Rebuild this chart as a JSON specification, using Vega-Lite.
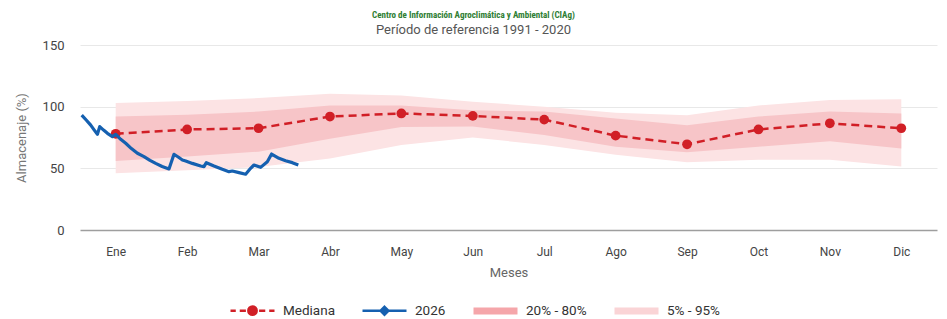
{
  "$schema": "https://vega.github.io/schema/vega-lite/v6.json",
  "width": 857,
  "height": 185,
  "autosize": {"type": "none"},
  "padding": {"left": 80, "top": 45, "right": 10, "bottom": 89},
  "background": "white",
  "config": {
    "font": "Roboto",
    "view": {"stroke": null},
    "axis": {"labelFont": "Roboto", "titleFont": "Roboto"},
    "legend": {"labelFont": "Roboto"}
  },
  "title": {
    "text": "Centro de Información Agroclimática y Ambiental (CIAg)",
    "subtitle": "Período de referencia 1991 - 2020",
    "font": "Roboto Condensed, Liberation Sans Narrow, DejaVu Sans Condensed, Roboto",
    "fontSize": 9,
    "fontWeight": "bold",
    "color": "#2e7d32",
    "subtitleFont": "Roboto",
    "subtitleFontSize": 13,
    "subtitleColor": "#555555",
    "subtitlePadding": 4,
    "anchor": "middle",
    "dx": -35,
    "offset": 2
  },
  "datasets": {
    "mensual": [
      {"mes": 0, "med": 78, "p5": 46, "p20": 56, "p80": 92, "p95": 103},
      {"mes": 1, "med": 81.5, "p5": 48.5, "p20": 59.5, "p80": 93.5, "p95": 104.5},
      {"mes": 2, "med": 82.5, "p5": 51, "p20": 63.5, "p80": 96, "p95": 107},
      {"mes": 3, "med": 92, "p5": 58, "p20": 74, "p80": 101, "p95": 110.5},
      {"mes": 4, "med": 94.5, "p5": 69, "p20": 83.5, "p80": 101, "p95": 109},
      {"mes": 5, "med": 92.5, "p5": 75, "p20": 84, "p80": 97, "p95": 104},
      {"mes": 6, "med": 89.5, "p5": 69, "p20": 77, "p80": 96, "p95": 100},
      {"mes": 7, "med": 76.5, "p5": 61, "p20": 67.5, "p80": 90.5, "p95": 95},
      {"mes": 8, "med": 69.5, "p5": 55, "p20": 63, "p80": 85, "p95": 93},
      {"mes": 9, "med": 81.5, "p5": 57, "p20": 67.5, "p80": 92, "p95": 101},
      {"mes": 10, "med": 86.5, "p5": 57, "p20": 72, "p80": 96, "p95": 105.5},
      {"mes": 11, "med": 82.5, "p5": 51.5, "p20": 66, "p80": 94.5, "p95": 106}
    ],
    "diario": [
      {"mes": -0.476, "valor": 93.2},
      {"mes": -0.41, "valor": 89},
      {"mes": -0.35, "valor": 85},
      {"mes": -0.3, "valor": 81},
      {"mes": -0.256, "valor": 77.6},
      {"mes": -0.224, "valor": 83.8},
      {"mes": -0.17, "valor": 81},
      {"mes": -0.116, "valor": 78.4},
      {"mes": -0.046, "valor": 75.7},
      {"mes": 0, "valor": 77.6},
      {"mes": 0.07, "valor": 73.5},
      {"mes": 0.14, "valor": 70.3},
      {"mes": 0.22, "valor": 66},
      {"mes": 0.304, "valor": 62.2},
      {"mes": 0.396, "valor": 59.5},
      {"mes": 0.48, "valor": 56.5},
      {"mes": 0.56, "valor": 54},
      {"mes": 0.65, "valor": 51.5},
      {"mes": 0.746, "valor": 49.5},
      {"mes": 0.816, "valor": 61.4},
      {"mes": 0.88, "valor": 59},
      {"mes": 0.934, "valor": 56.8},
      {"mes": 0.98, "valor": 56},
      {"mes": 1.073, "valor": 54},
      {"mes": 1.19, "valor": 51.9},
      {"mes": 1.236, "valor": 51.4},
      {"mes": 1.269, "valor": 54.6},
      {"mes": 1.376, "valor": 51.9},
      {"mes": 1.493, "valor": 49.2},
      {"mes": 1.586, "valor": 47.3},
      {"mes": 1.633, "valor": 47.8},
      {"mes": 1.726, "valor": 46.5},
      {"mes": 1.819, "valor": 45.2},
      {"mes": 1.889, "valor": 50},
      {"mes": 1.936, "valor": 52.7},
      {"mes": 2.029, "valor": 50.8},
      {"mes": 2.123, "valor": 55.4},
      {"mes": 2.183, "valor": 61.6},
      {"mes": 2.286, "valor": 58.1},
      {"mes": 2.379, "valor": 56.2},
      {"mes": 2.473, "valor": 54.6},
      {"mes": 2.557, "valor": 52.7}
    ],
    "leyenda": [
      {"serie": "Mediana"},
      {"serie": "2026"},
      {"serie": "20% - 80%"},
      {"serie": "5% - 95%"}
    ]
  },
  "encoding": {
    "x": {
      "field": "mes",
      "type": "quantitative",
      "scale": {"domain": [-0.5, 11.5], "nice": false, "zero": false},
      "axis": {
        "values": [0, 1, 2, 3, 4, 5, 6, 7, 8, 9, 10, 11],
        "labelExpr": "['Ene','Feb','Mar','Abr','May','Jun','Jul','Ago','Sep','Oct','Nov','Dic'][datum.value]",
        "grid": false,
        "ticks": false,
        "domain": false,
        "labelPadding": 16,
        "labelFontSize": 12,
        "labelColor": "#444444",
        "title": "Meses",
        "titleFontSize": 13,
        "titleFontWeight": "normal",
        "titleColor": "#666666",
        "titlePadding": 9,
        "labelFlush": false,
        "labelOverlap": false
      }
    }
  },
  "layer": [
    {
      "data": {"name": "mensual"},
      "mark": {"type": "area", "color": "#fce3e4", "opacity": 1},
      "encoding": {
        "y": {
          "field": "p5",
          "type": "quantitative",
          "scale": {"domain": [0, 150], "nice": false},
          "axis": {
            "values": [0, 50, 100, 150],
            "title": "Almacenaje (%)",
            "titleFontSize": 13,
            "titleFontWeight": "normal",
            "titleColor": "#777777",
            "titlePadding": 14,
            "labelFontSize": 13,
            "labelColor": "#444444",
            "labelPadding": 16,
            "ticks": false,
            "domain": false,
            "gridColor": {"condition": {"test": "datum.value === 0", "value": "#9e9e9e"}, "value": "#e8e8e8"},
            "gridWidth": {"condition": {"test": "datum.value === 0", "value": 1.6}, "value": 1}
          }
        },
        "y2": {"field": "p95"}
      }
    },
    {
      "data": {"name": "mensual"},
      "mark": {"type": "area", "color": "#f7c5c8", "opacity": 1},
      "encoding": {
        "y": {"field": "p20", "type": "quantitative"},
        "y2": {"field": "p80"}
      }
    },
    {
      "data": {"name": "mensual"},
      "mark": {"type": "line", "color": "#d11f26", "strokeDash": [8, 5], "strokeWidth": 2.5, "point": {"filled": true, "size": 95, "color": "#d11f26"}},
      "encoding": {
        "y": {"field": "med", "type": "quantitative"}
      }
    },
    {
      "data": {"name": "diario"},
      "mark": {"type": "line", "color": "#1560b0", "strokeWidth": 3.2, "strokeJoin": "round"},
      "encoding": {
        "y": {"field": "valor", "type": "quantitative"}
      }
    },
    {
      "data": {"name": "leyenda"},
      "mark": {"type": "point", "filled": true, "strokeWidth": 2.5, "opacity": 1},
      "encoding": {
        "y": {"field": "valor", "type": "quantitative"},
        "fill": {
          "field": "serie",
          "type": "nominal",
          "scale": {
            "domain": ["Mediana", "2026", "20% - 80%", "5% - 95%"],
            "range": ["#d11f26", "#1560b0", "#f5a6aa", "#fad4d6"]
          },
          "legend": {
            "orient": "none",
            "direction": "horizontal",
            "legendX": 149,
            "legendY": 242,
            "title": null,
            "labelFontSize": 13.5,
            "labelColor": "#333333",
            "labelOffset": 7,
            "columnPadding": 22,
            "symbolSize": 1936,
            "symbolStrokeWidth": 2.5,
            "symbolOpacity": 1
          }
        },
        "stroke": {
          "field": "serie",
          "type": "nominal",
          "scale": {
            "domain": ["Mediana", "2026", "20% - 80%", "5% - 95%"],
            "range": ["#d11f26", "#1560b0", "transparent", "transparent"]
          },
          "legend": {
            "orient": "none",
            "direction": "horizontal",
            "legendX": 149,
            "legendY": 242,
            "title": null,
            "labelFontSize": 13.5,
            "labelColor": "#333333",
            "labelOffset": 7,
            "columnPadding": 22,
            "symbolSize": 1936,
            "symbolStrokeWidth": 2.5,
            "symbolOpacity": 1
          }
        },
        "shape": {
          "field": "serie",
          "type": "nominal",
          "scale": {
            "domain": ["Mediana", "2026", "20% - 80%", "5% - 95%"],
            "range": [
              "M-1,0H-0.76M-0.58,0H-0.3M0.3,0H0.58M0.76,0H1M-0.19,0A0.19,0.19 0 1,0 0.19,0A0.19,0.19 0 1,0 -0.19,0Z",
              "M-1,0H1M0,-0.18L0.18,0L0,0.18L-0.18,0Z",
              "M-1,-0.16H1V0.16H-1Z",
              "M-1,-0.16H1V0.16H-1Z"
            ]
          },
          "legend": {
            "orient": "none",
            "direction": "horizontal",
            "legendX": 149,
            "legendY": 242,
            "title": null,
            "labelFontSize": 13.5,
            "labelColor": "#333333",
            "labelOffset": 7,
            "columnPadding": 22,
            "symbolSize": 1936,
            "symbolStrokeWidth": 2.5,
            "symbolOpacity": 1
          }
        }
      }
    }
  ]
}
